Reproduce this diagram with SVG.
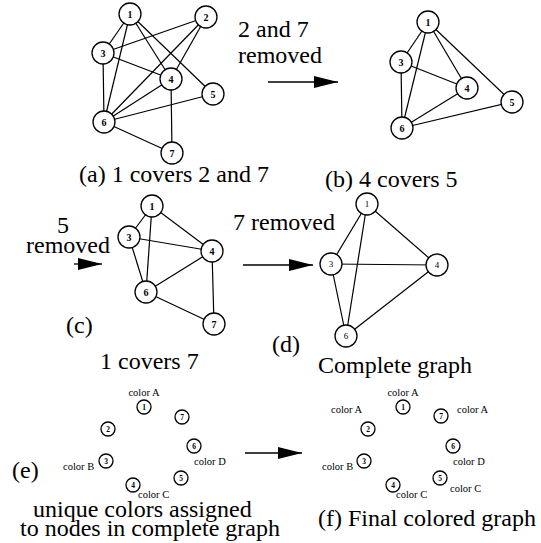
<svg xmlns="http://www.w3.org/2000/svg" width="541" height="543" viewBox="0 0 541 543">
<style>
.e{stroke:#000;stroke-width:1.2;fill:none}
.n{fill:#fff;stroke:#000;stroke-width:1.3}
.nl{font-family:"Liberation Serif",serif;font-weight:bold;font-size:10px;text-anchor:middle}
.nd{font-family:"Liberation Serif",serif;font-size:9px;text-anchor:middle}
.ns{font-family:"Liberation Serif",serif;font-weight:bold;font-size:7.5px;text-anchor:middle}
.t{font-family:"Liberation Serif",serif;font-size:24px}
.c{font-family:"Liberation Serif",serif;font-size:10.5px}
.ar{stroke:#000;stroke-width:1.3;fill:none}
</style>
<defs>
<marker id="ah" markerUnits="userSpaceOnUse" markerWidth="26" markerHeight="14" refX="24" refY="6" orient="auto">
<path d="M0,0 L24,6 L0,12 Z" fill="#000"/>
</marker>
</defs>
<g id="connectors">
<line class="e" x1="130" y1="14" x2="103" y2="53"/>
<line class="e" x1="130" y1="14" x2="104" y2="122"/>
<line class="e" x1="130" y1="14" x2="171" y2="79"/>
<line class="e" x1="130" y1="14" x2="213" y2="94"/>
<line class="e" x1="206" y1="17" x2="103" y2="53"/>
<line class="e" x1="206" y1="17" x2="104" y2="122"/>
<line class="e" x1="206" y1="17" x2="171" y2="79"/>
<line class="e" x1="103" y1="53" x2="171" y2="79"/>
<line class="e" x1="103" y1="53" x2="104" y2="122"/>
<line class="e" x1="104" y1="122" x2="171" y2="79"/>
<line class="e" x1="104" y1="122" x2="213" y2="94"/>
<line class="e" x1="104" y1="122" x2="172" y2="153"/>
<line class="e" x1="171" y1="79" x2="172" y2="153"/>
<line class="e" x1="428" y1="22" x2="401" y2="62"/>
<line class="e" x1="428" y1="22" x2="402" y2="128"/>
<line class="e" x1="428" y1="22" x2="467" y2="88"/>
<line class="e" x1="428" y1="22" x2="512" y2="102"/>
<line class="e" x1="401" y1="62" x2="467" y2="88"/>
<line class="e" x1="401" y1="62" x2="402" y2="128"/>
<line class="e" x1="402" y1="128" x2="467" y2="88"/>
<line class="e" x1="402" y1="128" x2="512" y2="102"/>
<line class="e" x1="152" y1="206" x2="129" y2="237"/>
<line class="e" x1="152" y1="206" x2="146" y2="292"/>
<line class="e" x1="152" y1="206" x2="212" y2="251"/>
<line class="e" x1="129" y1="237" x2="212" y2="251"/>
<line class="e" x1="129" y1="237" x2="146" y2="292"/>
<line class="e" x1="146" y1="292" x2="212" y2="251"/>
<line class="e" x1="146" y1="292" x2="214" y2="324"/>
<line class="e" x1="212" y1="251" x2="214" y2="324"/>
<line class="e" x1="367" y1="204" x2="331" y2="264"/>
<line class="e" x1="367" y1="204" x2="346" y2="336"/>
<line class="e" x1="367" y1="204" x2="437" y2="265"/>
<line class="e" x1="331" y1="264" x2="437" y2="265"/>
<line class="e" x1="331" y1="264" x2="346" y2="336"/>
<line class="e" x1="346" y1="336" x2="437" y2="265"/>
<line class="ar" x1="268" y1="82" x2="338" y2="82" marker-end="url(#ah)"/>
<line class="ar" x1="74" y1="264" x2="102" y2="264" marker-end="url(#ah)"/>
<line class="ar" x1="243" y1="265" x2="313" y2="265" marker-end="url(#ah)"/>
<line class="ar" x1="245" y1="453" x2="302" y2="453" marker-end="url(#ah)"/>
</g>
<g id="a1"><circle class="n" cx="130" cy="14" r="11"/><text class="nl" x="130" y="17.5">1</text></g>
<g id="a2"><circle class="n" cx="206" cy="17" r="11"/><text class="nl" x="206" y="20.5">2</text></g>
<g id="a3"><circle class="n" cx="103" cy="53" r="11"/><text class="nl" x="103" y="56.5">3</text></g>
<g id="a4"><circle class="n" cx="171" cy="79" r="11"/><text class="nl" x="171" y="82.5">4</text></g>
<g id="a5"><circle class="n" cx="213" cy="94" r="11"/><text class="nl" x="213" y="97.5">5</text></g>
<g id="a6"><circle class="n" cx="104" cy="122" r="11"/><text class="nl" x="104" y="125.5">6</text></g>
<g id="a7"><circle class="n" cx="172" cy="153" r="11"/><text class="nl" x="172" y="156.5">7</text></g>
<g id="b1"><circle class="n" cx="428" cy="22" r="11"/><text class="nl" x="428" y="25.5">1</text></g>
<g id="b3"><circle class="n" cx="401" cy="62" r="11"/><text class="nl" x="401" y="65.5">3</text></g>
<g id="b4"><circle class="n" cx="467" cy="88" r="11"/><text class="nl" x="467" y="91.5">4</text></g>
<g id="b5"><circle class="n" cx="512" cy="102" r="11"/><text class="nl" x="512" y="105.5">5</text></g>
<g id="b6"><circle class="n" cx="402" cy="128" r="11"/><text class="nl" x="402" y="131.5">6</text></g>
<g id="c1"><circle class="n" cx="152" cy="206" r="11"/><text class="nl" x="152" y="209.5">1</text></g>
<g id="c3"><circle class="n" cx="129" cy="237" r="11"/><text class="nl" x="129" y="240.5">3</text></g>
<g id="c4"><circle class="n" cx="212" cy="251" r="11"/><text class="nl" x="212" y="254.5">4</text></g>
<g id="c6"><circle class="n" cx="146" cy="292" r="11"/><text class="nl" x="146" y="295.5">6</text></g>
<g id="c7"><circle class="n" cx="214" cy="324" r="11"/><text class="nl" x="214" y="327.5">7</text></g>
<g id="d1"><circle class="n" cx="367" cy="204" r="11"/><text class="nd" x="367" y="207">1</text></g>
<g id="d3"><circle class="n" cx="331" cy="264" r="11"/><text class="nd" x="331" y="267">3</text></g>
<g id="d4"><circle class="n" cx="437" cy="265" r="11"/><text class="nd" x="437" y="268">4</text></g>
<g id="d6"><circle class="n" cx="346" cy="336" r="11"/><text class="nd" x="346" y="339">6</text></g>
<g id="e1"><circle class="n" cx="144" cy="407" r="7"/><text class="ns" x="144" y="409.5">1</text></g>
<g id="e2"><circle class="n" cx="108" cy="429" r="7"/><text class="ns" x="108" y="431.5">2</text></g>
<g id="e3"><circle class="n" cx="106" cy="461" r="7"/><text class="ns" x="106" y="463.5">3</text></g>
<g id="e4"><circle class="n" cx="133" cy="485" r="7"/><text class="ns" x="133" y="487.5">4</text></g>
<g id="e5"><circle class="n" cx="181" cy="478" r="7"/><text class="ns" x="181" y="480.5">5</text></g>
<g id="e6"><circle class="n" cx="194" cy="446" r="7"/><text class="ns" x="194" y="448.5">6</text></g>
<g id="e7"><circle class="n" cx="182" cy="417" r="7"/><text class="ns" x="182" y="419.5">7</text></g>
<g id="f1"><circle class="n" cx="403" cy="407" r="7"/><text class="ns" x="403" y="409.5">1</text></g>
<g id="f2"><circle class="n" cx="368" cy="429" r="7"/><text class="ns" x="368" y="431.5">2</text></g>
<g id="f3"><circle class="n" cx="364" cy="461" r="7"/><text class="ns" x="364" y="463.5">3</text></g>
<g id="f4"><circle class="n" cx="393" cy="485" r="7"/><text class="ns" x="393" y="487.5">4</text></g>
<g id="f5"><circle class="n" cx="440" cy="478" r="7"/><text class="ns" x="440" y="480.5">5</text></g>
<g id="f6"><circle class="n" cx="453" cy="446" r="7"/><text class="ns" x="453" y="448.5">6</text></g>
<g id="f7"><circle class="n" cx="441" cy="416" r="7"/><text class="ns" x="441" y="418.5">7</text></g>
<g id="labels">
<text class="t" x="79" y="182">(a) 1 covers 2 and 7</text>
<text class="t" x="238" y="37">2 and 7</text>
<text class="t" x="238" y="63">removed</text>
<text class="t" x="325" y="187">(b) 4 covers 5</text>
<text class="t" x="63" y="233" text-anchor="middle">5</text>
<text class="t" x="26" y="253">removed</text>
<text class="t" x="66" y="333">(c)</text>
<text class="t" x="100" y="369">1 covers 7</text>
<text class="t" x="233" y="230">7 removed</text>
<text class="t" x="272" y="352">(d)</text>
<text class="t" x="318" y="373">Complete graph</text>
<text class="t" x="12" y="478">(e)</text>
<text class="t" x="33" y="517">unique colors assigned</text>
<text class="t" x="20" y="536">to nodes in complete graph</text>
<text class="t" x="318" y="526">(f) Final colored graph</text>
<text class="c" x="144" y="396" text-anchor="middle">color A</text>
<text class="c" x="63" y="470">color B</text>
<text class="c" x="194" y="465">color D</text>
<text class="c" x="138" y="498">color C</text>
<text class="c" x="403" y="396" text-anchor="middle">color A</text>
<text class="c" x="331" y="413">color A</text>
<text class="c" x="457" y="413">color A</text>
<text class="c" x="322" y="470">color B</text>
<text class="c" x="453" y="465">color D</text>
<text class="c" x="450" y="492">color C</text>
<text class="c" x="396" y="498">color C</text>
</g>
</svg>
